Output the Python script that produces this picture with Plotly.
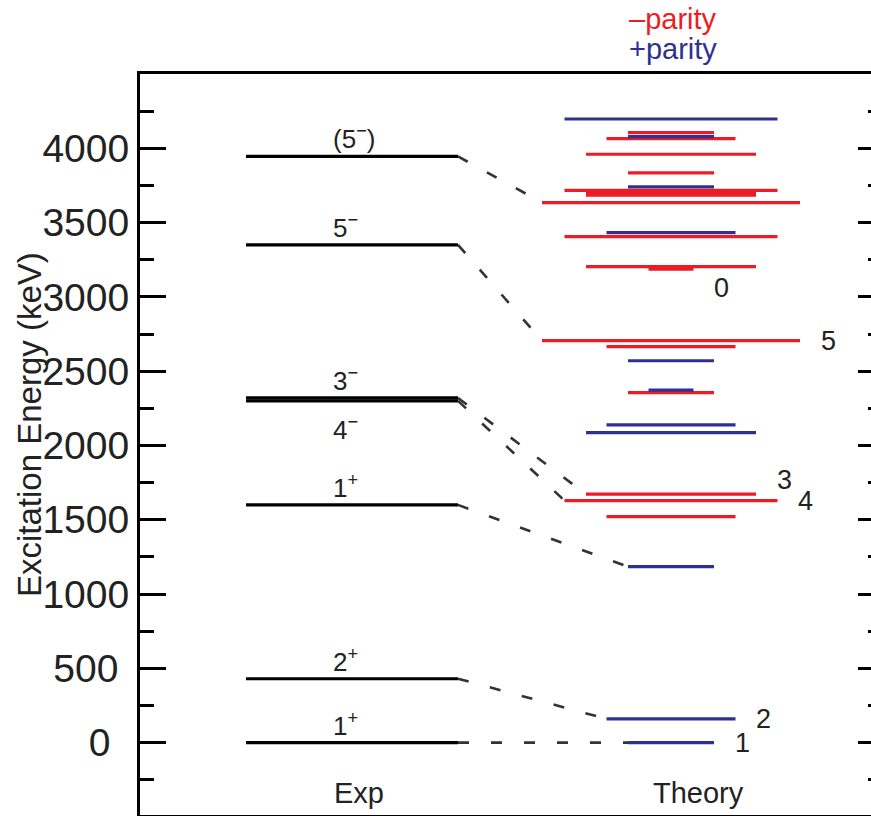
import plotly.graph_objects as go

# ---------------- data ----------------
# Experimental levels (keV) and their spin-parity labels
exp_energy = [0, 430, 1600, 2300, 2320, 3350, 3945]
exp_label = ["1<sup>+</sup>", "2<sup>+</sup>", "1<sup>+</sup>", "4<sup>−</sup>",
             "3<sup>−</sup>", "5<sup>−</sup>", "(5<sup>−</sup>)"]

# Theory levels, positive parity (blue)
pos_energy = [0, 160, 1184, 2086, 2138, 2372, 2570, 3432, 3740, 4078, 4197]
pos_spin = [1, 2, 1, 3, 2, 0, 1, 2, 1, 1, 4]

# Theory levels, negative parity (red)
neg_energy = [1521, 1629, 1672, 2355, 2665, 2705, 3186, 3203, 3405, 3635,
              3685, 3700, 3717, 3835, 3960, 4065, 4105]
neg_spin = [2, 4, 3, 1, 2, 5, 0, 3, 4, 5, 3, 3, 4, 1, 3, 2, 1]

# Exp -> theory correspondences
link_exp = [0, 430, 1600, 2300, 2320, 3350, 3945]
link_theory = [0, 160, 1184, 1629, 1672, 2705, 3635]
link_spin = [1, 2, 1, 4, 3, 5, 5]

# Spin labels on theory levels
tlabel_energy = [0, 160, 1629, 1672, 2705, 3186]
tlabel_spin = [1, 2, 4, 3, 5, 0]

tick_vals = [0, 500, 1000, 1500, 2000, 2500, 3000, 3500, 4000]
tick_text = ["0\u00a0\u2009", "500\u00a0", "1000", "1500", "2000", "2500", "3000", "3500", "4000"]

# ---------------- layout / style ----------------
RED = "#ED1C24"
BLUE = "#2E3192"
FONT = "Liberation Sans"
EXP_X0, EXP_X1 = 246, 458
EXP_LABEL_X = 331
TH_CX = 671
HALF = [22.5, 43, 64.5, 85, 106.5, 129]      # half-length of a theory bar by spin
TLABEL_DX = 28
TLABEL_SHIFT = {3: 14, 0: -19}
BELOW_LABELS = {"4<sup>−</sup>"}
Y_RANGE = [-487, 4500]
PLOT_H = 741
PLOT_B = 815


def paper_y(px):
    return (PLOT_B - px) / PLOT_H


fig = go.Figure()

# dashed correspondences
for e, t, j in zip(link_exp, link_theory, link_spin):
    fig.add_trace(go.Scatter(
        x=[EXP_X1, TH_CX - HALF[j]], y=[e, t], mode="lines",
        line=dict(color="#333333", width=2.6, dash="11px,22px"),
        hoverinfo="skip", showlegend=False))

# experimental levels
xs, ys = [], []
for e in exp_energy:
    xs += [EXP_X0, EXP_X1, None]
    ys += [e, e, None]
fig.add_trace(go.Scatter(x=xs, y=ys, mode="lines",
                         line=dict(color="black", width=3.2),
                         hoverinfo="skip", showlegend=False))

# theory levels
for energies, spins, col in [(neg_energy, neg_spin, RED), (pos_energy, pos_spin, BLUE)]:
    xs, ys = [], []
    for e, j in zip(energies, spins):
        xs += [TH_CX - HALF[j], TH_CX + HALF[j], None]
        ys += [e, e, None]
    fig.add_trace(go.Scatter(x=xs, y=ys, mode="lines",
                             line=dict(color=col, width=3.2),
                             hoverinfo="skip", showlegend=False))

# invisible trace for right axis
fig.add_trace(go.Scatter(x=[None], y=[None], yaxis="y2", showlegend=False))

annotations = []
for e, lab in zip(exp_energy, exp_label):
    below = lab in BELOW_LABELS
    annotations.append(dict(
        x=EXP_LABEL_X, y=e, text=lab, showarrow=False, xanchor="left",
        yanchor="top" if below else "bottom", yshift=-9 if below else 0,
        font=dict(family=FONT, size=26, color="#222")))

for e, j in zip(tlabel_energy, tlabel_spin):
    annotations.append(dict(
        x=TH_CX + HALF[j] + TLABEL_DX, y=e, text=str(j), showarrow=False,
        xanchor="center", yanchor="middle", yshift=TLABEL_SHIFT.get(j, 0),
        font=dict(family=FONT, size=27, color="#222")))

annotations += [
    dict(x=359, y=paper_y(793), yref="paper", text="Exp", showarrow=False,
         xanchor="center", yanchor="middle",
         font=dict(family=FONT, size=29, color="#222")),
    dict(x=698, y=paper_y(793), yref="paper", text="Theory", showarrow=False,
         xanchor="center", yanchor="middle",
         font=dict(family=FONT, size=29, color="#222")),
    dict(x=627, y=paper_y(19), yref="paper", xanchor="left", yanchor="middle",
         text="–parity", showarrow=False,
         font=dict(family=FONT, size=29, color=RED)),
    dict(x=627, y=paper_y(49), yref="paper", xanchor="left", yanchor="middle",
         text="+parity", showarrow=False,
         font=dict(family=FONT, size=29, color=BLUE)),
    dict(x=(29 - 140) / 731, y=paper_y(425), xref="paper", yref="paper",
         xanchor="center", yanchor="middle",
         text="Excitation Energy (keV)", textangle=-90, showarrow=False,
         font=dict(family=FONT, size=33, color="#222")),
]

fig.update_layout(
    width=871, height=816,
    margin=dict(l=140, r=0, t=74, b=1),
    paper_bgcolor="white", plot_bgcolor="white",
    annotations=annotations,
    xaxis=dict(range=[140, 871], showgrid=False, zeroline=False,
               showticklabels=False, ticks="", showline=True, mirror=True,
               linecolor="black", linewidth=3),
    yaxis=dict(range=Y_RANGE, showgrid=False, zeroline=False,
               showline=True, linecolor="black", linewidth=3,
               ticks="inside", ticklen=26, tickwidth=3, tickcolor="black",
               tickvals=tick_vals, ticktext=tick_text,
               ticklabelstandoff=0,
               tickfont=dict(family=FONT, size=39, color="#222"),
               minor=dict(ticks="inside", ticklen=14, tickwidth=3,
                          tickcolor="black", dtick=250, tick0=-250)),
    yaxis2=dict(range=Y_RANGE, overlaying="y", side="right", anchor="x",
                showgrid=False, zeroline=False, showline=False,
                showticklabels=False, ticks="inside", ticklen=13, tickwidth=3,
                tickcolor="black", tickvals=tick_vals,
                minor=dict(ticks="inside", ticklen=3, tickwidth=3,
                           tickcolor="black", dtick=250, tick0=-250)),
)

fig.write_html("out.html")
